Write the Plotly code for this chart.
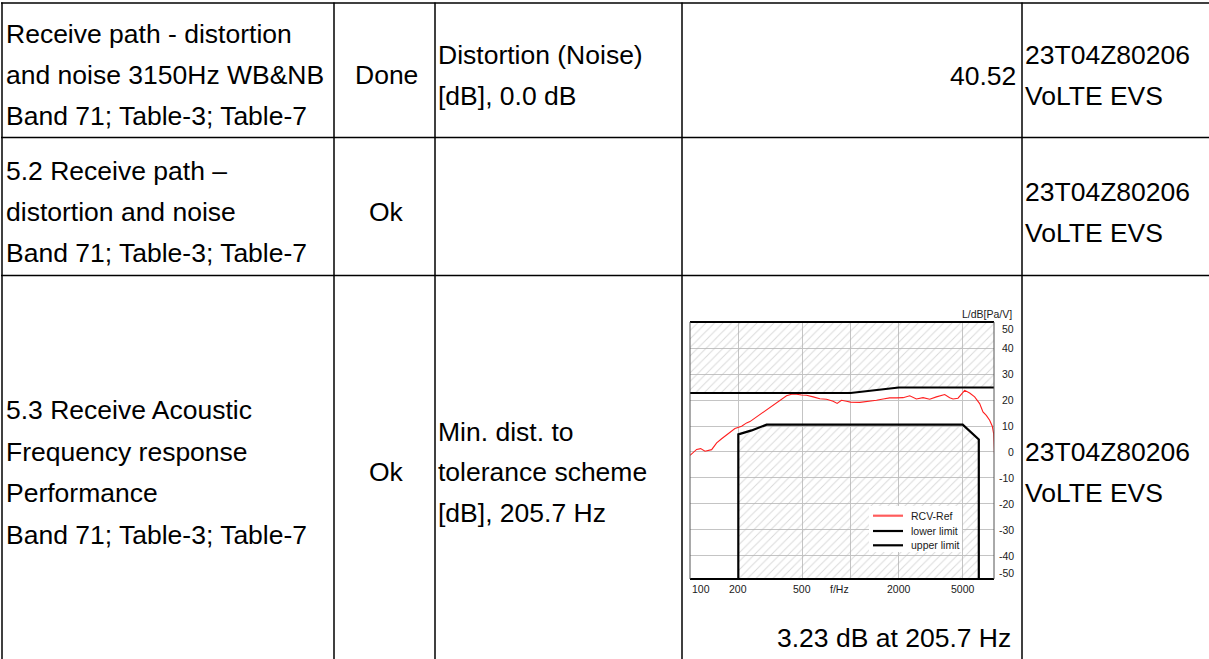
import math
import plotly.graph_objects as go

W, H = 1209, 659


def px(x):
    return x / W


def py(y):
    return 1 - y / H


# ---------------- chart data ----------------
freq_rcv = [100, 110, 116.5, 124, 136.4, 146.6, 157.4, 173.2, 190.5, 209.7, 225.3, 236.3,
            259.9, 286, 314.7, 346.2, 371.9, 399.5, 429.3, 461.1, 495.3, 532, 585.5,
            644.2, 708.8, 779.8, 825.6, 878.6, 944, 999.5, 1143, 1318, 1451, 1596,
            1756, 1932, 2126, 2339, 2574, 2831, 3115, 3428, 3863, 4149, 4352, 4674,
            4904, 5144, 5526, 5936, 6377, 6689, 7015, 7360, 7645, 7795, 7950]
level_rcv = [-1.3, 1.0, 1.3, 0.3, 0.9, 3.5, 5.1, 7.1, 9.0, 9.9, 11.2, 11.7,
             13.5, 15.4, 17.1, 18.9, 20.5, 21.6, 22.2, 22.2, 21.9, 21.8, 21.2,
             20.5, 20.3, 19.5, 18.7, 19.9, 19.5, 19.2, 19.1, 19.5, 19.9, 20.4,
             20.8, 20.8, 20.9, 21.6, 20.4, 20.9, 20.3, 21.2, 22.1, 20.9, 20.4, 20.7,
             22.1, 23.7, 22.7, 21.2, 18.6, 15.4, 14.1, 12.2, 9.9, 7.1, -5.0]

freq_upper = [100, 1000, 2000, 8000]
level_upper = [22.7, 22.7, 24.8, 24.8]

freq_lower = [200, 200, 242, 300, 5000, 6300, 6300]
level_lower = [-50, 6.8, 8.3, 10.5, 10.5, 4.8, -50]

y_top = 50
x_tick_vals = [100, 200, 500, 1000, 2000, 5000]
x_tick_text = ["100", "200", "500", "f/Hz", "2000", "5000"]
y_tick_vals = [50, 40, 30, 20, 10, 0, -10, -20, -30, -40, -50]
legend_names = ["RCV-Ref", "lower limit", "upper limit"]

# ---------------- table data ----------------
col_item = [
    ["Receive path - distortion", "and noise 3150Hz WB&NB", "Band 71; Table-3; Table-7"],
    ["5.2 Receive path \u2013", "distortion and noise", "Band 71; Table-3; Table-7"],
    ["5.3 Receive Acoustic", "Frequency response", "Performance", "Band 71; Table-3; Table-7"],
]
col_status = ["Done", "Ok", "Ok"]
col_measure = [
    ["Distortion (Noise)", "[dB], 0.0 dB"],
    [],
    ["Min. dist. to", "tolerance scheme", "[dB], 205.7 Hz"],
]
col_value = ["40.52", "", "3.23 dB at 205.7 Hz"]
col_id = [["23T04Z80206", "VoLTE EVS"]] * 3

TFONT = "Liberation Sans, Arial, sans-serif"
TSIZE = 26.5
CFONT = dict(family=TFONT, size=10.5, color="#1a1a1a")

fig = go.Figure()

hatch = dict(shape="/", size=6, solidity=0.16, fgcolor="#b4b4b4", bgcolor="rgba(0,0,0,0)")

# hatched region above upper limit
fig.add_trace(go.Scatter(
    x=freq_upper + [freq_upper[-1], freq_upper[0]],
    y=level_upper + [y_top, y_top],
    fill="toself", fillcolor="rgba(0,0,0,0)", fillpattern=hatch,
    mode="none", showlegend=False, hoverinfo="skip"))
# hatched region below lower limit
fig.add_trace(go.Scatter(
    x=freq_lower, y=level_lower,
    fill="toself", fillcolor="rgba(0,0,0,0)", fillpattern=hatch,
    mode="none", showlegend=False, hoverinfo="skip"))

fig.add_trace(go.Scatter(x=freq_rcv, y=level_rcv, mode="lines", name=legend_names[0],
                         line=dict(color="#ff1f1f", width=1.1), showlegend=False))
fig.add_trace(go.Scatter(x=freq_lower, y=level_lower, mode="lines", name=legend_names[1],
                         line=dict(color="#000000", width=2.2), showlegend=False))
fig.add_trace(go.Scatter(x=freq_upper, y=level_upper, mode="lines", name=legend_names[2],
                         line=dict(color="#000000", width=2.2), showlegend=False))

fig.update_xaxes(type="log", range=[2, 3.894], domain=[px(690), px(994)],
                 tickvals=x_tick_vals[1:], showticklabels=False, ticks="",
                 showgrid=True, gridcolor="#c4c4c4", gridwidth=1,
                 zeroline=False, showline=False)
fig.update_yaxes(range=[-48.85, 50], domain=[py(579), py(322)],
                 tickvals=y_tick_vals[1:-1], showticklabels=False, ticks="",
                 showgrid=True, gridcolor="#c4c4c4", gridwidth=1,
                 zeroline=False, showline=False)

shapes = []
# chart frame
shapes.append(dict(type="line", xref="x domain", yref="y domain", x0=0, x1=1, y0=1, y1=1,
                   line=dict(color="#000", width=2.2), layer="above"))
shapes.append(dict(type="line", xref="x domain", yref="y domain", x0=0, x1=1, y0=0, y1=0,
                   line=dict(color="#000", width=2.2), layer="above"))
shapes.append(dict(type="line", xref="x domain", yref="y domain", x0=0, x1=0, y0=0, y1=1,
                   line=dict(color="#555", width=1), layer="above"))
shapes.append(dict(type="line", xref="x domain", yref="y domain", x0=1, x1=1, y0=0, y1=1,
                   line=dict(color="#555", width=1), layer="above"))

# legend box
shapes.append(dict(type="rect", xref="paper", yref="paper", x0=px(869), x1=px(962),
                   y0=py(552), y1=py(506), fillcolor="white", line=dict(width=0), layer="above"))
leg_y = [515.7, 531, 545.3]
leg_col = ["#ff5c5c", "#000", "#000"]
annotations = []
for name, yy, cc in zip(legend_names, leg_y, leg_col):
    shapes.append(dict(type="line", xref="paper", yref="paper", x0=px(873), x1=px(903),
                       y0=py(yy), y1=py(yy), line=dict(color=cc, width=2.2), layer="above"))
    annotations.append(dict(text=name, xref="paper", yref="paper", x=px(909), y=py(yy),
                            xanchor="left", yanchor="middle", showarrow=False, font=CFONT))

# chart tick labels
x_anchor = ["left", "center", "center", "right", "center", "center"]
for v, t, a in zip(x_tick_vals, x_tick_text, x_anchor):
    annotations.append(dict(text=t, x=math.log10(v), xref="x",
                            y=py(588.5), yref="paper", xanchor=a, yanchor="middle",
                            showarrow=False, font=CFONT))
for v in y_tick_vals:
    yv = min(max(v, -48.85), 50)
    shift = 0
    if v == 50:
        shift = -7
    elif v == -50:
        shift = 6.3
    annotations.append(dict(text=str(v), x=px(1015.5), xref="paper", y=yv, yref="y",
                            yshift=shift, xanchor="right", yanchor="middle",
                            showarrow=False, font=CFONT))
annotations.append(dict(text="L/dB[Pa/V]", x=px(1014), xref="paper", y=py(314), yref="paper",
                        xanchor="right", yanchor="middle", showarrow=False, font=CFONT))

# table grid
row_lines = [3, 137.5, 275.5]
col_lines = [2, 334, 435, 682, 1022]
for yy in row_lines:
    shapes.append(dict(type="line", xref="paper", yref="paper", x0=px(1), x1=1.0,
                       y0=py(yy), y1=py(yy), line=dict(color="#000", width=1.5)))
for xx in col_lines:
    shapes.append(dict(type="line", xref="paper", yref="paper", x0=px(xx), x1=px(xx),
                       y0=py(2.5), y1=0, line=dict(color="#000", width=1.5)))

TF = dict(family=TFONT, size=TSIZE, color="#000")


def add_text(t, x, y, anchor="left"):
    annotations.append(dict(text=t, x=px(x), y=py(y), xref="paper", yref="paper",
                            xanchor=anchor, yanchor="middle", showarrow=False, font=TF))


item_y = [[34, 75, 116], [171, 212, 253], [410, 452, 493, 535]]
status_y = [75, 212, 472]
measure_y = [[55, 96], [], [432, 472, 513]]
value_pos = [(1018, 76), None, (1013, 638)]
id_y = [[55, 96], [192, 233], [452, 493]]

for r in range(3):
    for t, yy in zip(col_item[r], item_y[r]):
        add_text(t, 4, yy)
    add_text(col_status[r], 386, status_y[r], "center")
    for t, yy in zip(col_measure[r], measure_y[r]):
        add_text(t, 436, yy)
    if col_value[r]:
        add_text(col_value[r], value_pos[r][0], value_pos[r][1], "right")
    for t, yy in zip(col_id[r], id_y[r]):
        add_text(t, 1023, yy)

fig.update_layout(width=W, height=H, margin=dict(l=0, r=0, t=0, b=0),
                  paper_bgcolor="white", plot_bgcolor="white",
                  shapes=shapes, annotations=annotations, showlegend=False)

fig.write_html("out.html", config={"displayModeBar": False},
               post_script="document.body.style.margin='0px';document.body.style.padding='0px';")
